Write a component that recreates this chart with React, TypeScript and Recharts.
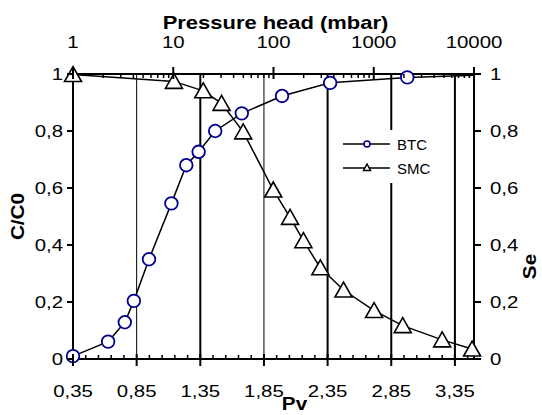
import { LineChart, Line, XAxis, YAxis, ReferenceLine, Legend } from 'recharts';

const FONT = '"Liberation Sans", Arial, sans-serif';

// bottom axis (Pv)
const pvTicks = [0.35, 0.85, 1.35, 1.85, 2.35, 2.85, 3.35];
const pvMinorTicks = [
  0.45, 0.55, 0.65, 0.75, 0.95, 1.05, 1.15, 1.25, 1.45, 1.55, 1.65, 1.75,
  1.95, 2.05, 2.15, 2.25, 2.45, 2.55, 2.65, 2.75, 2.95, 3.05, 3.15, 3.25, 3.45,
];
const gridThin = [0.85, 1.85];
const gridThick = [1.35, 2.35, 2.85, 3.35];

// top axis (pressure head, log)
const headTicks = [1, 10, 100, 1000, 10000];
const headMinorTicks = [
  2, 3, 4, 5, 6, 7, 8, 9, 20, 30, 40, 50, 60, 70, 80, 90,
  200, 300, 400, 500, 600, 700, 800, 900, 2000, 3000, 4000, 5000, 6000, 7000, 8000, 9000,
];

const yTicks = [0, 0.2, 0.4, 0.6, 0.8, 1];

// BTC (C/C0)
const btcPv = [0.35, 0.626, 0.757, 0.828, 0.947, 1.123, 1.24, 1.337, 1.467, 1.676, 1.992, 2.37, 2.976, 3.5];
const btcC = [0.01, 0.061, 0.129, 0.204, 0.35, 0.546, 0.68, 0.727, 0.8, 0.862, 0.923, 0.969, 0.988, 0.996];

// SMC (Se)
const smcPv = [0.35, 1.143, 1.373, 1.517, 1.687, 1.923, 2.055, 2.16, 2.293, 2.475, 2.715, 2.94, 3.25, 3.485];
const smcSe = [0.998, 0.974, 0.941, 0.897, 0.797, 0.593, 0.497, 0.415, 0.32, 0.242, 0.17, 0.117, 0.067, 0.035];

const btcData = btcPv.map((pv, i) => ({ pv, c: btcC[i] }));
const smcData = smcPv.map((pv, i) => ({ pv, se: smcSe[i] }));
// no values, only gives the top log axis its extent
const headData = headTicks.map((h) => ({ h, none: null }));

const fmt = (v: number) => String(v).replace('.', ',');
const isMajor = (v: number, majors: number[]) =>
  majors.some((m) => Math.abs(m - v) < 1e-6 * Math.max(1, m));

function Stretch({ x, y, anchor = 'middle', size = 17, weight = 'normal', sx = 1.2, children }: any) {
  return (
    <text
      transform={`translate(${x},${y}) scale(${sx},1)`}
      textAnchor={anchor}
      fontSize={size}
      fontWeight={weight}
      fontFamily={FONT}
      fill="#000"
    >
      {children}
    </text>
  );
}

function PvTick({ x, y, payload }: any) {
  const v = payload.value;
  if (!isMajor(v, pvTicks)) {
    return <line x1={x} x2={x} y1={y} y2={y - 4} stroke="#000" strokeWidth={1.5} />;
  }
  return (
    <g>
      <line x1={x} x2={x} y1={y - 5} y2={y + 7} stroke="#000" strokeWidth={2} />
      <Stretch x={x} y={y + 38}>{fmt(v)}</Stretch>
    </g>
  );
}

function HeadTick({ x, y, payload }: any) {
  const v = payload.value;
  if (!isMajor(v, headTicks)) {
    return <line x1={x} x2={x} y1={y} y2={y + 4} stroke="#000" strokeWidth={1.5} />;
  }
  return (
    <g>
      <line x1={x} x2={x} y1={y - 7} y2={y + 5} stroke="#000" strokeWidth={2} />
      <Stretch x={x} y={y - 26}>{String(v)}</Stretch>
    </g>
  );
}

function LeftTick({ x, y, payload }: any) {
  return (
    <g>
      <line x1={x - 6} x2={x} y1={y} y2={y} stroke="#000" strokeWidth={2} />
      <Stretch x={x - 10} y={y + 6} anchor="end">{fmt(payload.value)}</Stretch>
    </g>
  );
}

function RightTick({ x, y, payload }: any) {
  return (
    <g>
      <line x1={x} x2={x + 7} y1={y} y2={y} stroke="#000" strokeWidth={2} />
      <Stretch x={x + 16} y={y + 6} anchor="start">{fmt(payload.value)}</Stretch>
    </g>
  );
}

const lastBtc = btcPv.length - 1;
function CircleDot({ cx, cy, index }: any) {
  if (index === lastBtc) return <g key={`b${index}`} />;
  return <circle key={`b${index}`} cx={cx} cy={cy} r={6.3} fill="#fff" stroke="#000090" strokeWidth={1.8} />;
}

function TriangleDot({ cx, cy, index }: any) {
  return (
    <polygon
      key={`s${index}`}
      points={`${cx},${cy - 8} ${cx - 8.5},${cy + 7} ${cx + 8.5},${cy + 7}`}
      fill="#fff"
      stroke="#000"
      strokeWidth={1.6}
    />
  );
}

function LegendBox() {
  return (
    <svg width={95} height={53} style={{ display: 'block', background: '#fff' }}>
      <line x1={3} x2={50} y1={14} y2={14} stroke="#000" strokeWidth={1.5} />
      <circle cx={27} cy={14} r={3} fill="#fff" stroke="#000090" strokeWidth={1.5} />
      <text x={57} y={19.5} fontSize={15} fontFamily={FONT}>BTC</text>
      <line x1={3} x2={50} y1={38} y2={38} stroke="#000" strokeWidth={1.5} />
      <polygon points="27,34 23.5,40.5 30.5,40.5" fill="#fff" stroke="#000" strokeWidth={1.5} />
      <text x={57} y={43.5} fontSize={15} fontFamily={FONT}>SMC</text>
    </svg>
  );
}

export default function App() {
  return (
    <div style={{ position: 'absolute', left: 0, top: 0 }}>
      <LineChart width={542} height={415} margin={{ top: 0, right: 0, bottom: 0, left: 0 }}>
        <XAxis
          xAxisId="head"
          dataKey="h"
          orientation="top"
          type="number"
          scale="log"
          domain={[1, 10000]}
          allowDataOverflow
          ticks={[...headTicks, ...headMinorTicks]}
          interval={0}
          height={74}
          tickSize={0}
          tickMargin={0}
          tickLine={false}
          tick={<HeadTick />}
          axisLine={{ stroke: '#000', strokeWidth: 2 }}
          label={{
            content: ({ viewBox }: any) => (
              <Stretch x={viewBox.x + viewBox.width / 2 + 2} y={29} size={18} weight="bold" sx={1.22}>
                Pressure head (mbar)
              </Stretch>
            ),
          }}
        />
        <XAxis
          xAxisId="pv"
          dataKey="pv"
          type="number"
          domain={[0.35, 3.5]}
          ticks={[...pvTicks, ...pvMinorTicks]}
          interval={0}
          height={56}
          tickSize={0}
          tickMargin={0}
          tickLine={false}
          tick={<PvTick />}
          axisLine={{ stroke: '#000', strokeWidth: 2 }}
          label={{
            content: ({ viewBox }: any) => (
              <Stretch x={viewBox.x + viewBox.width / 2 + 21} y={viewBox.y + 51} size={18} weight="bold" sx={1.15}>
                Pv
              </Stretch>
            ),
          }}
        />
        <YAxis
          yAxisId="c"
          type="number"
          domain={[0, 1]}
          ticks={yTicks}
          interval={0}
          width={73}
          tickSize={0}
          tickMargin={0}
          tickLine={false}
          tick={<LeftTick />}
          axisLine={{ stroke: '#000', strokeWidth: 2 }}
          label={{
            content: ({ viewBox }: any) => (
              <text
                transform={`translate(${viewBox.x + 18},${viewBox.y + viewBox.height / 2}) rotate(-90) scale(1.15,1)`}
                textAnchor="middle"
                dominantBaseline="central"
                fontSize={18}
                fontWeight="bold"
                fontFamily={FONT}
              >
                C/C0
              </text>
            ),
          }}
        />
        <YAxis
          yAxisId="se"
          orientation="right"
          type="number"
          domain={[0, 1]}
          ticks={yTicks}
          interval={0}
          width={68}
          tickSize={0}
          tickMargin={0}
          tickLine={false}
          tick={<RightTick />}
          axisLine={{ stroke: '#000', strokeWidth: 2 }}
          label={{
            content: ({ viewBox }: any) => (
              <text
                transform={`translate(${viewBox.x + 56},${viewBox.y + viewBox.height / 2 + 50}) rotate(-90) scale(1.15,1)`}
                textAnchor="middle"
                dominantBaseline="central"
                fontSize={18}
                fontWeight="bold"
                fontFamily={FONT}
              >
                Se
              </text>
            ),
          }}
        />
        {gridThin.map((v) => (
          <ReferenceLine key={`t${v}`} x={v} xAxisId="pv" yAxisId="c" stroke="#000" strokeWidth={1} />
        ))}
        {gridThick.map((v) => (
          <ReferenceLine key={`k${v}`} x={v} xAxisId="pv" yAxisId="c" stroke="#000" strokeWidth={2} />
        ))}
        <Line
          data={headData}
          dataKey="none"
          xAxisId="head"
          yAxisId="c"
          stroke="none"
          dot={false}
          activeDot={false}
          legendType="none"
          isAnimationActive={false}
        />
        <Line
          data={btcData}
          dataKey="c"
          xAxisId="pv"
          yAxisId="c"
          stroke="#000"
          strokeWidth={1.5}
          dot={CircleDot}
          activeDot={false}
          isAnimationActive={false}
        />
        <Line
          data={smcData}
          dataKey="se"
          xAxisId="pv"
          yAxisId="se"
          stroke="#000"
          strokeWidth={1.5}
          dot={TriangleDot}
          activeDot={false}
          isAnimationActive={false}
        />
        <Legend
          layout="vertical"
          align="center"
          verticalAlign="middle"
          content={() => <LegendBox />}
          wrapperStyle={{ left: 340, top: 130, width: 95, height: 53 }}
        />
      </LineChart>
    </div>
  );
}
